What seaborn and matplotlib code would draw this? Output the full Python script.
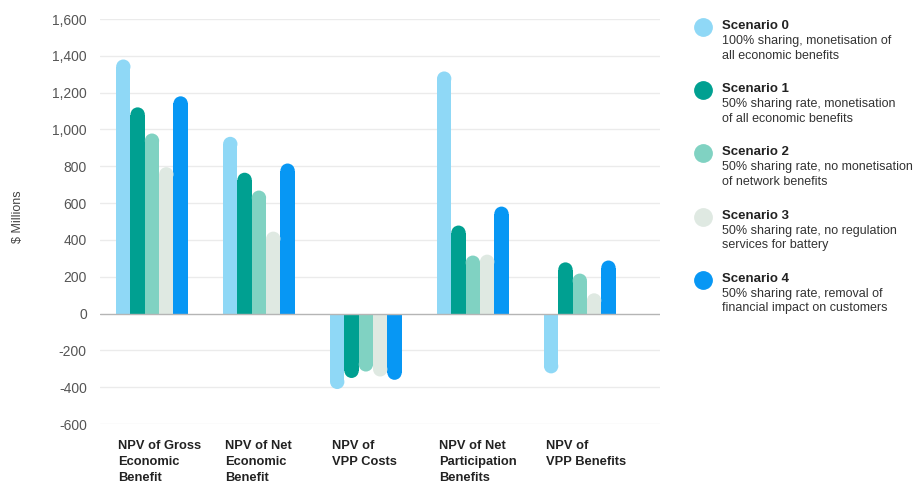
import matplotlib
matplotlib.use("Agg")
import matplotlib.pyplot as plt
from matplotlib.patches import Ellipse
from matplotlib.ticker import FuncFormatter
import seaborn as sns
import pandas as pd

metrics = [
    "NPV of Gross\nEconomic\nBenefit",
    "NPV of Net\nEconomic\nBenefit",
    "NPV of\nVPP Costs",
    "NPV of Net\nParticipation\nBenefits",
    "NPV of\nVPP Benefits",
]
scenarios = ["Scenario 0", "Scenario 1", "Scenario 2", "Scenario 3", "Scenario 4"]
descriptions = [
    "100% sharing, monetisation of\nall economic benefits",
    "50% sharing rate, monetisation\nof all economic benefits",
    "50% sharing rate, no monetisation\nof network benefits",
    "50% sharing rate, no regulation\nservices for battery",
    "50% sharing rate, removal of\nfinancial impact on customers",
]
scenario_0 = [1380, 960, -410, 1315, -325]
scenario_1 = [1120, 765, -350, 478, 278]
scenario_2 = [978, 668, -315, 315, 217]
scenario_3 = [795, 445, -342, 320, 110]
scenario_4 = [1180, 815, -360, 581, 288]
colors = ["#8fd8f6", "#00a091", "#80d2c2", "#dfe9e2", "#0797f4"]
yticks = list(range(-600, 1601, 200))

series = [scenario_0, scenario_1, scenario_2, scenario_3, scenario_4]
rows = []
for s, vals in zip(scenarios, series):
    for m, v in zip(metrics, vals):
        rows.append({"metric": m, "scenario": s, "value": v})
df = pd.DataFrame(rows)

sns.set_theme(style="white")
plt.rcParams["font.family"] = ["Liberation Sans", "DejaVu Sans"]

fig = plt.figure(figsize=(9.19, 4.83), dpi=100)
ax = fig.add_axes([100 / 919, 1 - 424 / 483, 560 / 919, (424 - 19) / 483])

sns.barplot(data=df, x="metric", y="value", hue="scenario", order=metrics,
            hue_order=scenarios, palette=colors, width=0.67, saturation=1,
            dodge=True, legend=False, ax=ax, linewidth=0)

ax.set_ylim(-600, 1600)
ax.set_xlim(-0.486, 4.75)
ax.set_yticks(yticks)
ax.yaxis.set_major_formatter(FuncFormatter(lambda v, p: f"{int(v):,}"))
ax.tick_params(axis="y", labelsize=10, labelcolor="#555555", length=0, pad=9.5)
ax.set_xticks([])
ax.set_xlabel("")
ax.set_ylabel("")
for sp in ax.spines.values():
    sp.set_visible(False)
for t in yticks:
    ax.axhline(t, color="#b5b5b5" if t == 0 else "#ebebeb",
               lw=1.0, zorder=0.5 if t else 3)

# Round the far end of each bar
fig.canvas.draw()
bbox = ax.get_window_extent()
xr = ax.get_xlim()[1] - ax.get_xlim()[0]
yr = ax.get_ylim()[1] - ax.get_ylim()[0]
for p in list(ax.patches):
    w = p.get_width()
    h = p.get_height()
    if h == 0:
        continue
    w_px = w * bbox.width / xr
    r = (w_px / 2) * yr / bbox.height
    sign = 1 if h > 0 else -1
    p.set_height(h - sign * r)
    ax.add_patch(Ellipse((p.get_x() + w / 2, h - sign * r), w, 2 * r,
                         facecolor=p.get_facecolor(), edgecolor="none",
                         zorder=p.get_zorder()))

# Category labels below the plot
for i, m in enumerate(metrics):
    ax.text(i - 0.335 + 0.02, -688, m, ha="left", va="top", fontsize=9.3,
            fontweight="bold", color="#222222", linespacing=1.42)

fig.text(18 / 919, 1 - 217 / 483, "$ Millions", rotation=90, ha="center",
         va="center", fontsize=9, color="#444444")

# Legend with descriptions
for i, (s, d, c) in enumerate(zip(scenarios, descriptions, colors)):
    yc = 27 + i * 63.2
    fig.add_artist(plt.Line2D([703 / 919], [1 - yc / 483], marker="o",
                              markersize=12.5, color=c, linestyle="none",
                              transform=fig.transFigure))
    fig.text(722 / 919, 1 - (yc - 1) / 483, s, ha="left", va="center",
             fontsize=9.5, fontweight="bold", color="#222222")
    fig.text(722 / 919, 1 - (yc + 8) / 483, d, ha="left", va="top",
             fontsize=9, color="#333333", linespacing=1.3)

fig.savefig("out.png", dpi=100)
